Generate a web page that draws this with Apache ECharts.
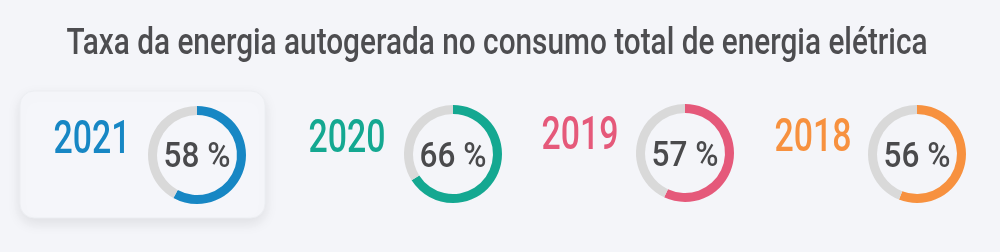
<!DOCTYPE html>
<html><head><meta charset="utf-8">
<script src="https://cdn.jsdelivr.net/npm/echarts@6/dist/echarts.min.js"></script>
<style>html,body{margin:0;padding:0;background:#f4f5f9}#c{width:1000px;height:252px}</style>
</head><body><div id="c"></div>
<script>
var titleText = 'Taxa da energia autogerada no consumo total de energia elétrica';
var years = ['2021', '2020', '2019', '2018'];
var shares = [58, 66, 57, 56];
var colors = ['#1787c4', '#14a891', '#e5597a', '#f7913f'];

var FONT = 'Roboto, "DejaVu Sans", sans-serif';
var pieCenters = [[197,155],[453,154],[685,153],[917,154]];
var yearPos = [[92,141.5],[347,140],[580,137.5],[813,139.5]];
var pctY = [158,158.5,157,158.5];

var cv = document.createElement('canvas').getContext('2d');
function fitScale(text, size, target){
  cv.font = '500 ' + size + 'px ' + FONT;
  return target / cv.measureText(text).width;
}
var titleScale = fitScale(titleText, 37, 861);
var yearScale = fitScale('2018', 47, 77);
var pctScale = fitScale('58 %', 35, 67);

var chart = echarts.init(document.getElementById('c'), null, {renderer:'canvas'});
var graphics = [{
  type: 'rect', shape: {x: 20, y: 91, width: 245, height: 127, r: 14}, z: -1,
  style: {fill: '#f5f6fa', stroke: '#eceef2', lineWidth: 1, shadowBlur: 14, shadowColor: 'rgba(0,0,0,0.09)', shadowOffsetY: 5}
}, {
  type: 'text', x: 497, y: 45, scaleX: titleScale,
  style: {text: titleText, fill: '#4d4d50', font: '500 37px ' + FONT, textAlign: 'center', textVerticalAlign: 'middle'}
}];
var series = [];
years.forEach(function(y, i){
  graphics.push({
    type: 'text', x: yearPos[i][0], y: yearPos[i][1], scaleX: yearScale,
    style: {text: y, fill: colors[i], font: '500 47px ' + FONT, textAlign: 'center', textVerticalAlign: 'middle'}
  });
  graphics.push({
    type: 'text', x: pieCenters[i][0], y: pctY[i], scaleX: pctScale, z: 10,
    style: {text: shares[i] + ' %', fill: '#4a4a4c', font: '500 35px ' + FONT, textAlign: 'center', textVerticalAlign: 'middle'}
  });
  series.push({
    type: 'pie', center: pieCenters[i], radius: [40, 49], startAngle: 90, clockwise: true,
    silent: true, animation: false,
    label: {show: false}, labelLine: {show: false},
    data: [
      {value: shares[i], itemStyle: {color: colors[i]}},
      {value: 100 - shares[i], itemStyle: {color: '#d9d9d9'}}
    ]
  });
});
chart.setOption({
  backgroundColor: '#f4f5f9',
  graphic: graphics,
  series: series
});
</script></body></html>
